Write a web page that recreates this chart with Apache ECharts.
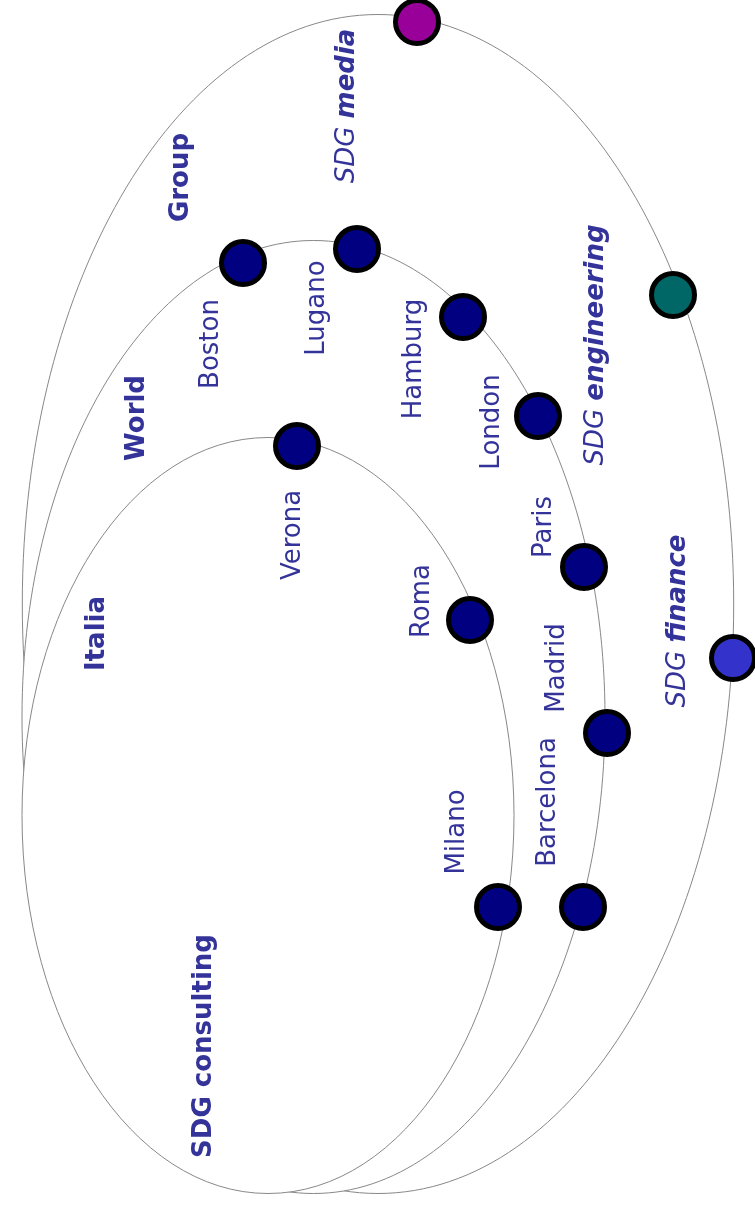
<!DOCTYPE html>
<html>
<head>
<meta charset="utf-8">
<script src="https://cdn.jsdelivr.net/npm/echarts@6/dist/echarts.min.js"></script>
<style>
html,body{margin:0;padding:0;background:#fff;}
#main{width:755px;height:1207px;}
</style>
</head>
<body>
<div id="main"></div>
<script>
// ---- data ----
// nested sets, drawn from the largest to the smallest
const rings = ['Group', 'World', 'Italia'];
const ringCx = [378, 313.5, 268];
const ringCy = [604, 717, 815.5];
const ringRx = [355.7, 291.5, 246];
const ringRy = [589.5, 476.5, 378];

const cities = ['Boston', 'Lugano', 'Hamburg', 'London', 'Paris', 'Madrid', 'Barcelona', 'Verona', 'Roma', 'Milano'];
const cityX = [243, 357, 463, 538, 584, 607, 583, 297, 470, 498];
const cityY = [263, 249, 317, 416, 567, 733, 907, 446, 620, 907];

const companies = ['media', 'engineering', 'finance'];
const companyX = [417, 673, 733];
const companyY = [22, 295, 658];

// ---- layout / style (not data) ----
const textColor = '#333399';
const fontFamily = 'DejaVu Sans';
const cityLabelOffset = {
  Boston: [-32, 81], Lugano: [-40, 59], Hamburg: [-49, 42], London: [-46, 6],
  Paris: [-40, -40], Madrid: [-50, -65], Barcelona: [-35, -105], Verona: [-4, 89],
  Roma: [-48, -19], Milano: [-41, -75]
};
const companyLabelOffset = { media: [-70, 84], engineering: [-77, 50], finance: [-55, -37] };
const companyColor = { media: '#990099', engineering: '#006666', finance: '#3333cc' };
const ringLabelPos = { Group: [181, 177.5], World: [137, 418], Italia: [97, 633.5] };
const titlePos = [204, 1046];

const ringData = rings.map((n, i) => ({ name: n, value: [ringCx[i], ringCy[i], ringRx[i], ringRy[i]] }));
const cityData = cities.map((n, i) => ({ name: n, value: [cityX[i], cityY[i]] }));
const companyData = companies.map((n, i) => ({
  name: n, value: [companyX[i], companyY[i]],
  itemStyle: { color: companyColor[n] }
}));

function rotText(x, y, text, extra) {
  return {
    type: 'text', x: x, y: y, rotation: Math.PI / 2,
    style: Object.assign({
      text: text, fill: textColor, fontFamily: fontFamily, fontSize: 26,
      align: 'center', verticalAlign: 'middle'
    }, extra || {})
  };
}

const chart = echarts.init(document.getElementById('main'), null, { renderer: 'canvas' });
chart.setOption({
  backgroundColor: '#ffffff',
  animation: false,
  grid: { left: 0, right: 0, top: 0, bottom: 0 },
  xAxis: { type: 'value', min: 0, max: 755, show: false },
  yAxis: { type: 'value', min: 0, max: 1207, inverse: true, show: false },
  series: [
    {
      type: 'custom', name: 'rings', z: 1,
      data: ringData,
      renderItem: function (params, api) {
        const c = api.coord([api.value(0), api.value(1)]);
        const s = api.size([api.value(2), api.value(3)]);
        return {
          type: 'ellipse', shape: { cx: c[0], cy: c[1], rx: s[0], ry: s[1] },
          style: { fill: '#ffffff', stroke: '#888888', lineWidth: 1 }
        };
      }
    },
    {
      type: 'custom', name: 'ringLabels', z: 3,
      data: ringData,
      renderItem: function (params, api) {
        const name = rings[params.dataIndex];
        const lp = api.coord(ringLabelPos[name]);
        return rotText(lp[0], lp[1], name, { fontWeight: 'bold' });
      }
    },
    {
      type: 'custom', name: 'title', z: 3,
      data: [titlePos],
      renderItem: function (params, api) {
        const p = api.coord([api.value(0), api.value(1)]);
        return rotText(p[0], p[1], 'SDG consulting', { fontWeight: 'bold' });
      }
    },
    {
      type: 'scatter', name: 'cities', z: 5,
      data: cityData,
      symbol: 'circle', symbolSize: 43,
      itemStyle: { color: '#000080', borderColor: '#000000', borderWidth: 5, opacity: 1 },
      label: { show: false }
    },
    {
      type: 'scatter', name: 'companies', z: 5,
      data: companyData,
      symbol: 'circle', symbolSize: 43,
      itemStyle: { borderColor: '#000000', borderWidth: 5, opacity: 1 },
      label: { show: false }
    },
    {
      type: 'custom', name: 'cityLabels', z: 3,
      data: cityData,
      renderItem: function (params, api) {
        const p = api.coord([api.value(0), api.value(1)]);
        const name = cities[params.dataIndex];
        const o = cityLabelOffset[name];
        return rotText(p[0] + o[0], p[1] + o[1], name);
      }
    },
    {
      type: 'custom', name: 'companyLabels', z: 3,
      data: companyData,
      renderItem: function (params, api) {
        const p = api.coord([api.value(0), api.value(1)]);
        const name = companies[params.dataIndex];
        const o = companyLabelOffset[name];
        return rotText(p[0] + o[0], p[1] + o[1], '{a|SDG }{b|' + name + '}', {
          rich: {
            a: { fontStyle: 'italic', fontWeight: 'normal', fontSize: 26, fontFamily: fontFamily, fill: textColor },
            b: { fontStyle: 'italic', fontWeight: 'bold', fontSize: 26, fontFamily: fontFamily, fill: textColor }
          }
        });
      }
    }
  ]
});
</script>
</body>
</html>
